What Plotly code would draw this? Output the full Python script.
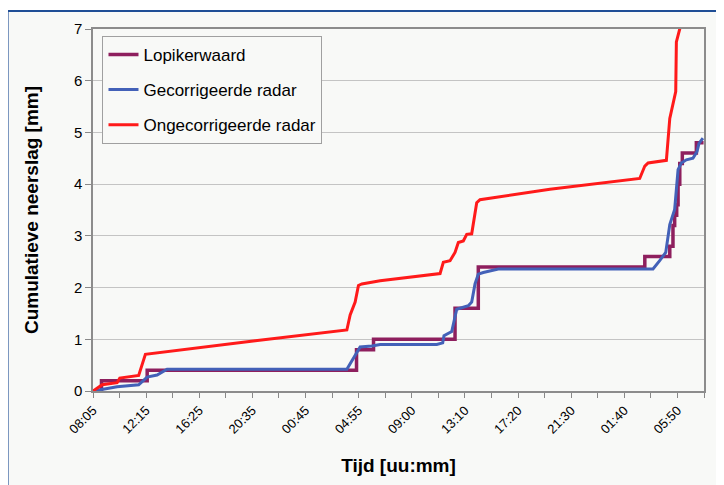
import plotly.graph_objects as go

# x in 5-minute steps from 08:05 (category positions)
tick_labels = ["08:05", "12:15", "16:25", "20:35", "00:45", "04:55",
               "09:00", "13:10", "17:20", "21:30", "01:40", "05:50"]

lopik_x = [0, 8, 51, 248, 264, 340.7, 362.6, 519.3, 542.8, 545.8, 547.4,
           549.3, 550.6, 552.2, 554.6, 567.8, 574.6]
lopik_y = [0, 0.2, 0.4, 0.8, 1.0, 1.6, 2.4, 2.6, 2.8, 3.2, 3.4,
           3.6, 4.0, 4.4, 4.6, 4.8, 4.8]

gecor_x = [0, 5.2, 11.7, 22.7, 43, 47.7, 50.9, 60.3, 69.7, 238.9, 246.7,
           251.4, 262.4, 270.2, 323.5, 329.1, 330.3, 337.6, 342.3, 353.2,
           356.4, 359.5, 362.6, 367.3, 381.4, 527, 533.3, 539, 542.8, 547.4,
           550.6, 553.7, 558.4, 564.6, 568.4, 570.3, 574]
gecor_y = [0, 0.02, 0.05, 0.08, 0.12, 0.21, 0.27, 0.31, 0.42, 0.42, 0.69,
           0.85, 0.87, 0.90, 0.90, 0.93, 1.07, 1.15, 1.58, 1.65,
           1.72, 2.07, 2.26, 2.29, 2.36, 2.36, 2.52, 2.68, 3.22, 3.51,
           4.28, 4.41, 4.47, 4.50, 4.63, 4.79, 4.89]

ongecor_x = [0, 8.6, 22.7, 25.2, 43, 45.6, 49.3, 152.7, 238.9, 242, 246.7,
             249.8, 253, 270.2, 326.6, 329.7, 336, 340.7, 343.8, 348.5,
             351.7, 356.4, 361.1, 364.2, 430, 514.5, 519.3, 522.4, 539.6,
             542.8, 545.8, 548.4, 549, 552.8, 556]
ongecor_y = [0, 0.12, 0.16, 0.25, 0.30, 0.47, 0.71, 0.97, 1.18, 1.47, 1.72,
             2.04, 2.07, 2.13, 2.27, 2.49, 2.52, 2.68, 2.87, 2.90,
             3.03, 3.04, 3.64, 3.70, 3.90, 4.11, 4.35, 4.41, 4.46,
             5.27, 5.56, 5.79, 6.75, 7.05, 7.4]

font_family = "Arial, Liberation Sans, sans-serif"
bg = "#F8F9F7"

fig = go.Figure()
fig.add_trace(go.Scatter(x=lopik_x, y=lopik_y, mode="lines", name="Lopikerwaard",
                         line=dict(color="#8E1F5E", width=3.5, shape="hv"),
                         legendgroup="a"))
fig.add_trace(go.Scatter(x=gecor_x, y=gecor_y, mode="lines", name="Gecorrigeerde radar",
                         line=dict(color="#4361B8", width=3),
                         legendgroup="b"))
fig.add_trace(go.Scatter(x=ongecor_x, y=ongecor_y, mode="lines", name="Ongecorrigeerde radar",
                         line=dict(color="#FF1A1A", width=3),
                         legendgroup="c"))

tickvals = list(range(0, 576, 25))
ticktext = [tick_labels[i // 2] if i % 2 == 0 and i // 2 < len(tick_labels) else ""
            for i in range(len(tickvals))]

OFF = 8  # page body margin
L, R, T, B = 92.5 - OFF, 704 - OFF, 27 - OFF, 391 - OFF
W, H = 716, 477
pw, ph = R - L, B - T

fig.update_layout(
    width=W, height=H,
    margin=dict(l=L, r=W - R, t=T, b=H - B),
    paper_bgcolor="white",
    plot_bgcolor=bg,
    font=dict(family=font_family, color="black"),
    showlegend=True,
    legend=dict(x=(102 - OFF - L) / pw, y=(B - (34 - OFF)) / ph, xanchor="left", yanchor="top",
                bgcolor=bg, bordercolor="#A0A0A0", borderwidth=1,
                font=dict(size=17, family=font_family),
                traceorder="grouped", tracegroupgap=10),
    shapes=[dict(type="rect", xref="paper", yref="paper", layer="below",
                 x0=(7 - OFF - L) / pw, x1=(740 - L) / pw,
                 y0=(B - 500) / ph, y1=(B - (9 - OFF)) / ph,
                 line=dict(color="#1F4E96", width=2), fillcolor=bg)],
)

fig.update_xaxes(range=[0, 575], tickmode="array", tickvals=tickvals, ticktext=ticktext,
                 tickangle=-45, tickfont=dict(size=13), ticks="outside", ticklen=5,
                 tickcolor="#888888", showgrid=False, zeroline=False,
                 showline=True, linecolor="#8C8C8C", linewidth=1.5, mirror=True,
                 title=dict(text="<b>Tijd [uu:mm]</b>", font=dict(size=19), standoff=23))
fig.update_yaxes(range=[0, 7], dtick=1, tickfont=dict(size=15), ticks="outside", ticklen=6,
                 tickcolor="#888888", showgrid=True, gridcolor="#C4C4C4", gridwidth=1,
                 zeroline=False, showline=True, linecolor="#8C8C8C", linewidth=1.5, mirror=True,
                 title=dict(text="<b>Cumulatieve neerslag [mm]</b>", font=dict(size=19), standoff=30))

fig.write_html("out.html")
